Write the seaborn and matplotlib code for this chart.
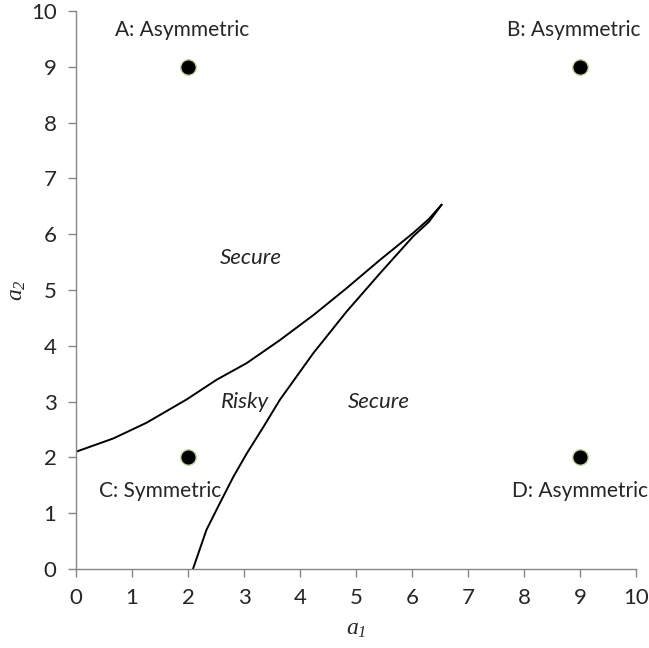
import matplotlib
matplotlib.use("Agg")
import matplotlib.pyplot as plt
import seaborn as sns
import pandas as pd

# Boundary curves
upper_x = [0, 0.67, 1.26, 1.98, 2.51, 3.05, 3.64, 4.24, 4.83, 5.43, 6.02, 6.30, 6.53]
upper_y = [2.10, 2.34, 2.62, 3.04, 3.39, 3.69, 4.10, 4.55, 5.03, 5.54, 6.02, 6.27, 6.53]
lower_x = [2.09, 2.33, 2.57, 2.81, 3.05, 3.35, 3.64, 4.24, 4.83, 5.43, 6.02, 6.30, 6.53]
lower_y = [0, 0.70, 1.18, 1.65, 2.07, 2.55, 3.03, 3.87, 4.61, 5.30, 5.96, 6.22, 6.53]

# Scenario points
point_x = [2, 9, 2, 9]
point_y = [9, 9, 2, 2]
point_names = ["A: Asymmetric", "B: Asymmetric", "C: Symmetric", "D: Asymmetric"]
name_x = [1.90, 8.88, 1.50, 9.00]
name_y = [9.66, 9.66, 1.40, 1.40]

# Region labels
region_names = ["Secure", "Risky", "Secure"]
region_x = [3.12, 3.02, 5.41]
region_y = [5.57, 3.00, 3.00]

ticks = list(range(0, 11))

sns.set_style("white")
plt.rcParams['font.family'] = ['Lato', 'DejaVu Sans']
plt.rcParams['mathtext.fontset'] = 'custom'
plt.rcParams['mathtext.it'] = 'Liberation Serif:italic'
plt.rcParams['mathtext.rm'] = 'Liberation Serif:italic'

fig = plt.figure(figsize=(6.49, 6.48), dpi=100)
ax = fig.add_axes([0.117, 0.122, 0.863, 0.861])

df_up = pd.DataFrame({"x": upper_x, "y": upper_y})
df_lo = pd.DataFrame({"x": lower_x, "y": lower_y})
sns.lineplot(data=df_up, x="x", y="y", ax=ax, color="black", linewidth=1.4,
             estimator=None, sort=False)
sns.lineplot(data=df_lo, x="x", y="y", ax=ax, color="black", linewidth=1.4,
             estimator=None, sort=False)

df_pts = pd.DataFrame({"x": point_x, "y": point_y})
sns.scatterplot(data=df_pts, x="x", y="y", ax=ax, s=125, color="black",
                edgecolor="#c3d69b", linewidth=1.0, zorder=5)

for nx, ny, name in zip(name_x, name_y, point_names):
    ax.text(nx, ny, name, ha="center", va="center", fontsize=15)

for rx, ry, name in zip(region_x, region_y, region_names):
    ax.text(rx, ry, name, ha="center", va="center", fontsize=16, style="italic")

ax.set_xlim(0, 10)
ax.set_ylim(0, 10)
ax.set_xticks(ticks)
ax.set_yticks(ticks)
ax.tick_params(axis="both", labelsize=16, length=6, width=1, color="#868686",
               direction="out", left=True, bottom=True, pad=8)

for side in ["top", "right"]:
    ax.spines[side].set_visible(False)
for side in ["left", "bottom"]:
    ax.spines[side].set_color("#868686")
    ax.spines[side].set_linewidth(1)

ax.set_xlabel(r"$a_1$", fontsize=17)
ax.set_ylabel(r"$a_2$", fontsize=17)
ax.xaxis.set_label_coords(0.5, -0.09)
ax.yaxis.set_label_coords(-0.085, 0.5)

plt.savefig("out.png", dpi=100)
